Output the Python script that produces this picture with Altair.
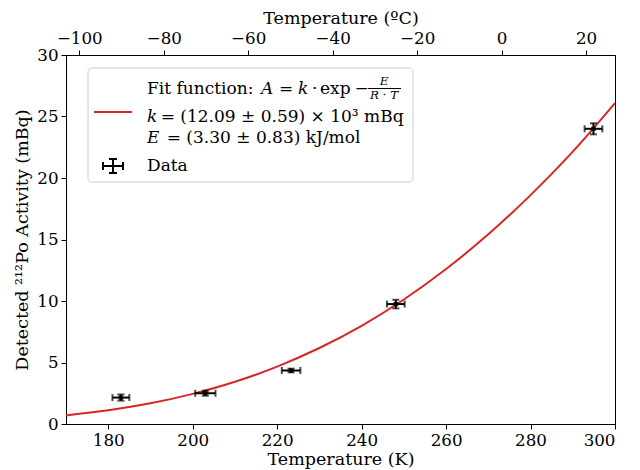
import altair as alt
import pandas as pd

# Measured data (Kelvin, mBq)
T = [183.0, 203.0, 223.3, 248.1, 294.9]
A = [2.15, 2.5, 4.35, 9.75, 24.0]
T_err = [2.0, 2.4, 2.2, 2.1, 2.1]
A_err = [0.25, 0.2, 0.15, 0.35, 0.45]

# Fit curve
T_fit = [170, 180, 190, 200, 210, 220, 230, 240, 250, 260, 270, 280, 290, 300]
A_fit = [0.70, 1.11, 1.68, 2.45, 3.43, 4.67, 6.18, 7.98, 10.12, 12.60, 15.42, 18.61, 22.14, 26.09]

K_ticks = [180, 200, 220, 240, 260, 280, 300]
A_ticks = [0, 5, 10, 15, 20, 25, 30]
C_ticks = [-100, -80, -60, -40, -20, 0, 20]

df = pd.DataFrame({"T": T, "A": A})
df["T_lo"] = [t - e for t, e in zip(T, T_err)]
df["T_hi"] = [t + e for t, e in zip(T, T_err)]
df["A_lo"] = [a - e for a, e in zip(A, A_err)]
df["A_hi"] = [a + e for a, e in zip(A, A_err)]
df_fit = pd.DataFrame({"T": T_fit, "A": A_fit})

FONT = "DejaVu Serif"
FS = 16.7     # tick labels
TFS = 17.5    # axis titles
LFS = 17      # legend text
AX = dict(labelFont=FONT, titleFont=FONT, labelFontSize=FS, titleFontSize=TFS,
          titleFontWeight="normal", labelColor="black", titleColor="black",
          tickSize=5, labelPadding=3)
xs = alt.Scale(domain=[170, 300], nice=False)
ys = alt.Scale(domain=[0, 30], nice=False)
kax = alt.Axis(values=K_ticks, title="Temperature (K)", titlePadding=2, **AX)
yax = alt.Axis(values=A_ticks, title="Detected ²¹²Po Activity (mBq)", titlePadding=5, **AX)


def X(field):
    return alt.X(field, type="quantitative", scale=xs, axis=kax)


def Y(field):
    return alt.Y(field, type="quantitative", scale=ys, axis=yax)


fit = alt.Chart(df_fit).mark_line(color="#d62728", strokeWidth=2, interpolate="monotone").encode(
    x=X("T"), y=Y("A"))

xerr = alt.Chart(df).mark_rule(color="black", strokeWidth=2).encode(
    x=X("T_lo"), x2="T_hi", y=Y("A"))
yerr = alt.Chart(df).mark_rule(color="black", strokeWidth=2).encode(
    x=X("T"), y=Y("A_lo"), y2="A_hi")
xcaps = alt.Chart(df).transform_fold(["T_lo", "T_hi"], as_=["k", "Tc"]).mark_tick(
    color="black", orient="vertical", size=7, thickness=2).encode(x=X("Tc"), y=Y("A"))
ycaps = alt.Chart(df).transform_fold(["A_lo", "A_hi"], as_=["k", "Ac"]).mark_tick(
    color="black", orient="horizontal", size=7, thickness=2).encode(x=X("T"), y=Y("Ac"))
pts = alt.Chart(df).mark_point(shape="square", filled=True, color="black", size=18, opacity=1).encode(
    x=X("T"), y=Y("A"))

one = pd.DataFrame({"d": [0]})


def txt(s, x, y, size=LFS, style="normal", align="left"):
    return alt.Chart(one).mark_text(
        text=s, font=FONT, fontSize=size, fontStyle=style, align=align,
        baseline="alphabetic", color="black").encode(x=alt.value(x), y=alt.value(y))


def rule(x1, x2, y1, y2, color="black", w=2):
    return alt.Chart(one).mark_rule(color=color, strokeWidth=w).encode(
        x=alt.value(x1), x2=alt.value(x2), y=alt.value(y1), y2=alt.value(y2))


legend_box = alt.Chart(one).mark_rect(
    fill="white", fillOpacity=0.85, stroke="#cccccc", strokeWidth=1, cornerRadius=4).encode(
    x=alt.value(22), x2=alt.value(347), y=alt.value(13), y2=alt.value(127))

legend_layers = [
    legend_box,
    rule(28, 66, 57, 57, color="#d62728"),
    rule(37, 57, 111, 111), rule(47, 47, 104, 118),
    rule(37, 37, 107, 115), rule(57, 57, 107, 115),
    rule(43, 51, 104, 104), rule(43, 51, 118, 118),
    txt("Fit function:", 81, 39),
    txt("A", 195, 39, style="italic"),
    txt("=", 213, 39),
    txt("k", 232, 39, style="italic"),
    txt("·", 246, 39),
    txt("exp", 254, 39),
    txt("−", 288.5, 39),
    txt("E", 318, 30, size=11.9, style="italic", align="center"),
    txt("R · T", 318, 44, size=11.9, style="italic", align="center"),
    rule(302, 335, 33.5, 33.5, w=1),
    txt("k", 81, 67, style="italic"),
    txt("= (12.09 ± 0.59) × 10³ mBq", 94.7, 67),
    txt("E", 81, 88, style="italic"),
    txt("= (3.30 ± 0.83) kJ/mol", 100.7, 88),
    txt("Data", 81, 116),
]

kelvin = alt.layer(fit, xerr, yerr, xcaps, ycaps, pts, *legend_layers)

celsius = alt.Chart(pd.DataFrame({"C": C_ticks})).mark_point(opacity=0).encode(
    x=alt.X("C:Q", scale=alt.Scale(domain=[-103.15, 26.85], nice=False),
            axis=alt.Axis(orient="top", values=C_ticks, title="Temperature (ºC)",
                          titlePadding=3, **AX)),
    y=alt.value(0))

chart = alt.layer(kelvin, celsius).resolve_scale(x="independent").properties(
    width=549, height=369,
    autosize=alt.AutoSizeParams(type="none"),
    padding={"left": 58, "top": 47, "right": 17, "bottom": 46},
).configure(
    font=FONT,
    style={"guide-label": {"font": FONT, "fontSize": FS, "fill": "black"},
           "guide-title": {"font": FONT, "fontSize": TFS, "fill": "black"}},
).configure_axis(
    labelFont=FONT, titleFont=FONT, labelFontSize=FS, titleFontSize=TFS,
    titleFontWeight="normal", labelColor="black", titleColor="black",
    domainColor="black", tickColor="black", tickSize=5, grid=False,
    domainWidth=1, tickWidth=1, labelPadding=3,
).configure_view(stroke="black", strokeWidth=1)

chart.save("out.html", embed_options={"renderer": "svg", "actions": False})
